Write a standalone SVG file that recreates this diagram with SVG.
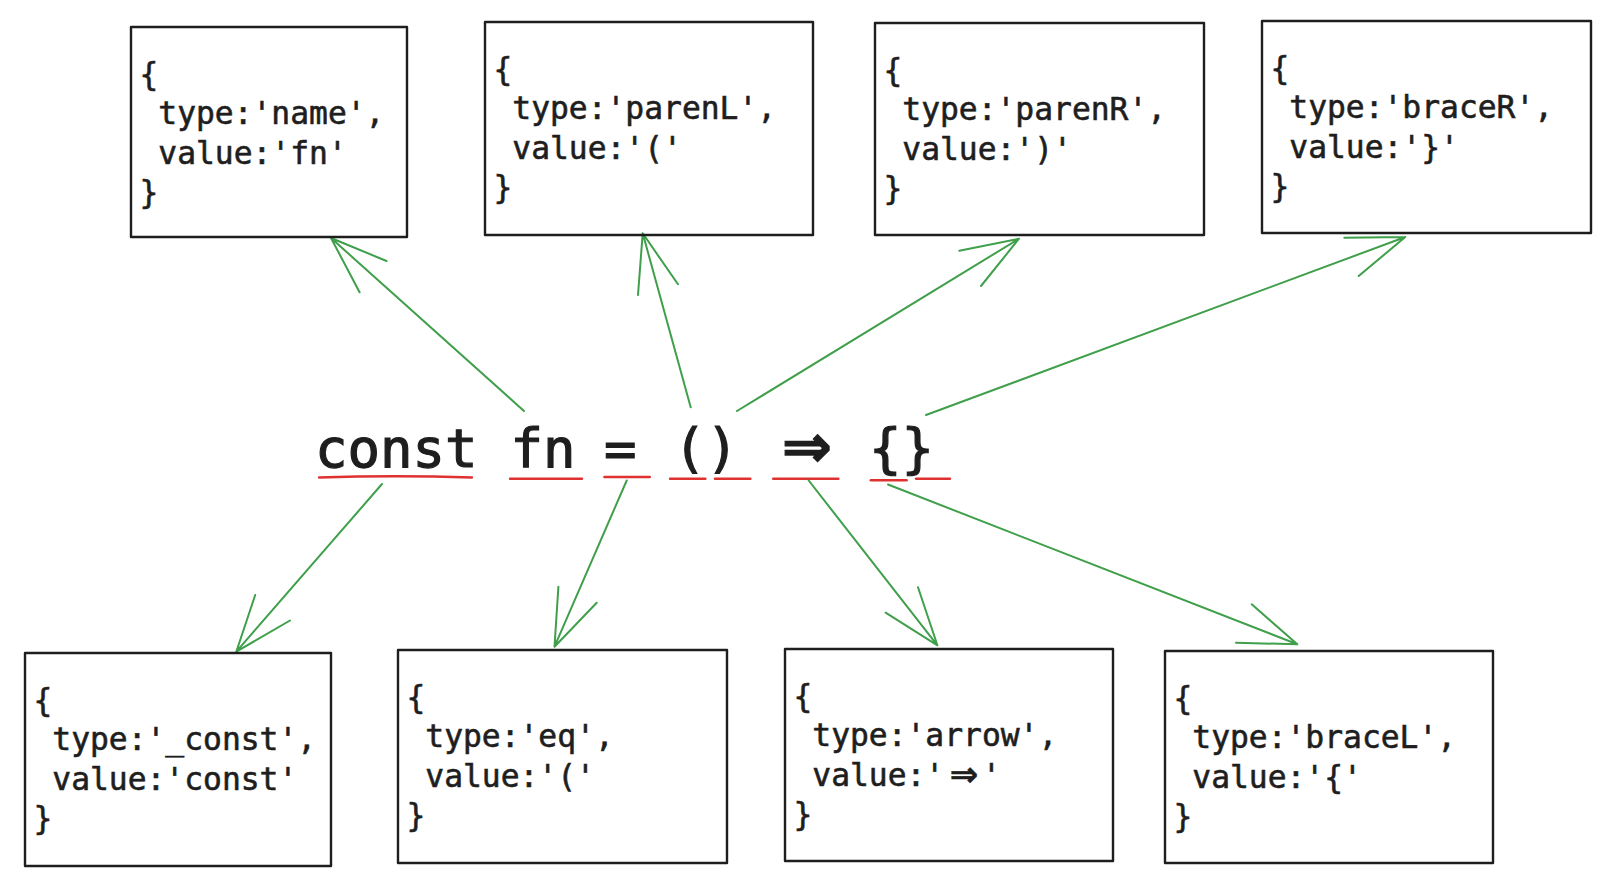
<svg xmlns="http://www.w3.org/2000/svg" width="1614" height="884" viewBox="0 0 1614 884">
<style>
  .box { fill: none; stroke: #1e1e1e; stroke-width: 2.4; stroke-linejoin: round; }
  .code { font-family: "DejaVu Sans Mono", "Liberation Mono", monospace; font-size: 31.3px; fill: #1e1e1e; stroke: #1e1e1e; stroke-width: 0.6; }
  .main { font-family: "DejaVu Sans Mono", "Liberation Mono", monospace; font-size: 54px; fill: #1e1e1e; stroke: #1e1e1e; stroke-width: 1.2; }
  .arr { font-family: "DejaVu Sans", "Liberation Sans", sans-serif; font-weight: bold; }
  .conn { fill: none; stroke: #3f9f4a; stroke-width: 2; stroke-linecap: round; stroke-linejoin: round; }
  .ul { fill: none; stroke: #e03131; stroke-width: 2.4; stroke-linecap: round; }
</style>
<rect width="1614" height="884" fill="#ffffff"/>

<g id="source">
  <text class="main" y="467"><tspan x="315">const</tspan><tspan x="510.6">fn</tspan><tspan x="604">=</tspan><tspan x="673.6">()</tspan><tspan class="arr" x="807" y="467" text-anchor="middle" font-size="60">⇒</tspan><tspan x="869" y="467">{}</tspan></text>
  <path class="ul" d="M319 477.5 Q395 475 472 477.5"/>
  <path class="ul" d="M510 478.7 L582 478.7"/>
  <path class="ul" d="M604.4 477 L649.8 477"/>
  <path class="ul" d="M670 478.7 L705.4 478.7"/>
  <path class="ul" d="M715 478.7 L750.4 478.7"/>
  <path class="ul" d="M773.2 478.7 L838.4 478.7"/>
  <path class="ul" d="M870.8 480.3 L906.6 480.3"/>
  <path class="ul" d="M916 478.7 L950 478.7"/>
</g>

<g id="connectors">
  <path class="conn" d="M524 411 L331 238 M386.5 261 L331 238 L359.6 292.3"/>
  <path class="conn" d="M690.7 407.3 L642.7 233.3 M638 295 L642.7 233.3 L678 284.3"/>
  <path class="conn" d="M737 411 L1019 238.7 M959.3 250.7 L1019 238.7 L981 286"/>
  <path class="conn" d="M926 415 L1405.3 237 M1344.3 237.7 L1405.3 237 L1358.7 276"/>
  <path class="conn" d="M382 484 L236.3 651.7 M255.2 595 L236.3 651.7 L290 620.5"/>
  <path class="conn" d="M626.7 480.5 L554.5 646.7 M558.4 586.7 L554.5 646.7 L596.7 602.7"/>
  <path class="conn" d="M808.7 480.5 L937.4 645.3 M885.6 612.7 L937.4 645.3 L918 587.3"/>
  <path class="conn" d="M888 484.5 L1297.3 644.3 M1251.7 604.3 L1297.3 644.3 L1236 642.7"/>
</g>

<g id="node-name">
  <rect class="box" x="131" y="27" width="276" height="210"/>
  <text class="code"><tspan x="139.5" y="85">{</tspan><tspan x="158.3" y="124.3">type:'name',</tspan><tspan x="158.3" y="163.6">value:'fn'</tspan><tspan x="139.5" y="202.9">}</tspan></text>
</g>
<g id="node-parenL">
  <rect class="box" x="485" y="22" width="328" height="213"/>
  <text class="code"><tspan x="493.5" y="80">{</tspan><tspan x="512.3" y="119.3">type:'parenL',</tspan><tspan x="512.3" y="158.6">value:'('</tspan><tspan x="493.5" y="197.9">}</tspan></text>
</g>
<g id="node-parenR">
  <rect class="box" x="875" y="23" width="329" height="212"/>
  <text class="code"><tspan x="883.5" y="81">{</tspan><tspan x="902.3" y="120.3">type:'parenR',</tspan><tspan x="902.3" y="159.6">value:')'</tspan><tspan x="883.5" y="198.9">}</tspan></text>
</g>
<g id="node-braceR">
  <rect class="box" x="1262" y="21" width="329" height="212"/>
  <text class="code"><tspan x="1270.5" y="79">{</tspan><tspan x="1289.3" y="118.3">type:'braceR',</tspan><tspan x="1289.3" y="157.6">value:'}'</tspan><tspan x="1270.5" y="196.9">}</tspan></text>
</g>
<g id="node-const">
  <rect class="box" x="25" y="653" width="306" height="213"/>
  <text class="code"><tspan x="33.5" y="711">{</tspan><tspan x="52.3" y="750.3">type:'_const',</tspan><tspan x="52.3" y="789.6">value:'const'</tspan><tspan x="33.5" y="828.9">}</tspan></text>
</g>
<g id="node-eq">
  <rect class="box" x="398" y="650" width="329" height="213"/>
  <text class="code"><tspan x="406.5" y="708">{</tspan><tspan x="425.3" y="747.3">type:'eq',</tspan><tspan x="425.3" y="786.6">value:'('</tspan><tspan x="406.5" y="825.9">}</tspan></text>
</g>
<g id="node-arrow">
  <rect class="box" x="785" y="649" width="328" height="212"/>
  <text class="code"><tspan x="793.5" y="707">{</tspan><tspan x="812.3" y="746.3">type:'arrow',</tspan><tspan x="812.3" y="785.6">value:'</tspan><tspan class="arr" x="964" y="785.6" text-anchor="middle" font-size="34">⇒</tspan><tspan x="982" y="785.6">'</tspan><tspan x="793.5" y="824.9">}</tspan></text>
</g>
<g id="node-braceL">
  <rect class="box" x="1165" y="651" width="328" height="212"/>
  <text class="code"><tspan x="1173.5" y="709">{</tspan><tspan x="1192.3" y="748.3">type:'braceL',</tspan><tspan x="1192.3" y="787.6">value:'{'</tspan><tspan x="1173.5" y="826.9">}</tspan></text>
</g>
</svg>
